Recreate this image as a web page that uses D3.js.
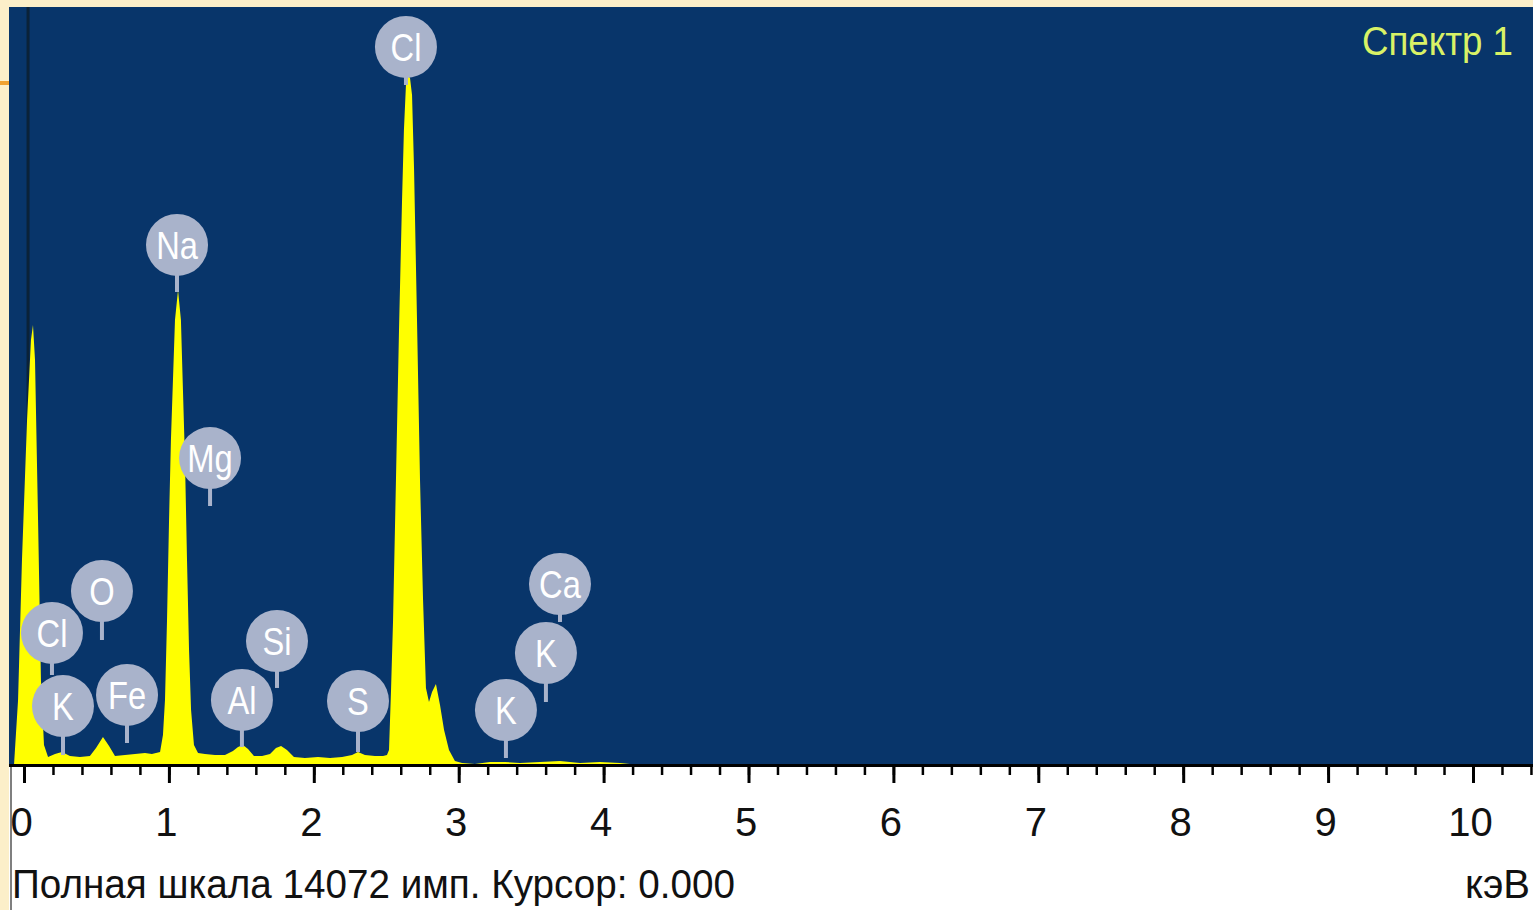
<!DOCTYPE html>
<html><head><meta charset="utf-8">
<script src="https://cdn.jsdelivr.net/npm/d3@7"></script>
<style>html,body{margin:0;padding:0;background:#fcefc9;overflow:hidden}</style>
</head><body><svg id="c" width="1533" height="910"></svg>
<script>
// ---- data ----
const energy = [-0.069,-0.041,-0.014,0.021,0.048,0.062,0.076,0.097,0.117,0.138,0.166,0.214,0.262,0.317,0.386,0.455,0.497,0.545,0.587,0.628,0.697,0.766,0.835,0.883,
  0.939,0.959,0.973,0.987,1.001,1.014,1.028,1.042,1.063,1.083,1.097,1.111,1.125,1.139,1.153,1.173,1.201,
  1.249,1.318,1.387,1.442,1.477,1.511,1.546,1.587,1.643,1.698,1.739,1.774,1.815,1.863,1.939,2.029,2.112,2.195,2.264,2.305,2.353,2.422,2.478,
  2.505,2.519,2.533,2.547,2.567,2.588,2.609,2.622,2.636,2.650,2.664,2.678,2.692,2.712,2.733,2.754,2.774,2.795,2.816,2.843,2.871,2.899,2.933,2.974,
  3.023,3.112,3.216,3.320,3.423,3.561,3.699,3.837,3.975,4.113,4.251,4.527,4.665,10.5];
const counts = [0,1207,3806,6405,7890,8169,7519,4548,1578,371,149,204,241,167,149,167,316,520,353,167,186,204,223,204,
  241,557,1207,2692,4548,6034,7148,8261,8818,8261,6962,5662,3806,2135,1021,371,223,
  204,186,186,260,334,371,297,167,167,204,316,353,278,149,130,149,130,149,186,241,186,167,167,
  186,278,1392,2692,5291,8076,10489,11789,12624,12810,12754,12439,11046,8300,5291,3063,1430,1170,1355,1504,1114,650,278,74,
  37,19,56,56,37,56,74,37,56,37,0,19,0,0];
const fullScale = 14072;
const majorTicks = [0,1,2,3,4,5,6,7,8,9,10];
const tickLabels = ["0","1","2","3","4","5","6","7","8","9","10"];
const peakNames  = ["Cl","Na","Mg","O","Cl","K","Fe","Al","Si","S","K","K","Ca"];
const peakEnergy = [2.636,1.056,1.284,0.538,0.193,0.269,0.711,1.504,1.746,2.305,3.326,3.602,3.699];
const peakLabelY = [13330,9654,5699,3230,2451,1095,1300,1207,2302,1188,1021,2079,3360];
const peakStemEnd= [12624,8781,4808,2321,1671,186,408,334,1430,241,130,1170,2655];
const spectrumName = "Спектр 1";
const footerText = "Полная шкала 14072 имп. Курсор: 0.000";
const unitText = "кэВ";

// ---- drawing ----
const svg = d3.select("#c");
const plotL = 9, plotT = 7, plotR = 1533, plotB = 765;
const x = d3.scaleLinear().domain([0,10]).range([24,1473]);
const y = d3.scaleLinear().domain([0,fullScale]).range([plotB,plotT]);

svg.append("rect").attr("width",1533).attr("height",910).attr("fill","#fcefc9");
svg.append("rect").attr("x",0).attr("y",81).attr("width",plotL).attr("height",4).attr("fill","#f0a232");
svg.append("rect").attr("x",plotL).attr("y",plotT).attr("width",plotR-plotL).attr("height",plotB-plotT).attr("fill","#08356a");

svg.append("clipPath").attr("id","clip").append("rect")
  .attr("x",plotL).attr("y",plotT).attr("width",plotR-plotL).attr("height",plotB-plotT);

// zero line
svg.append("line").attr("x1",x(0.028)).attr("x2",x(0.028)).attr("y1",plotT).attr("y2",plotB)
  .attr("stroke","#0b2238").attr("stroke-width",3);

const data = energy.map((e,i)=>({e, c:counts[i]}));
svg.append("path").datum(data).attr("clip-path","url(#clip)")
  .attr("fill","#ffff00")
  .attr("d", d3.area().x(d=>x(d.e)).y0(y(0)).y1(d=>y(d.c)));

// axis area
svg.append("rect").attr("x",plotL).attr("y",plotB).attr("width",plotR-plotL).attr("height",910-plotB).attr("fill","#ffffff");
svg.append("line").attr("x1",11).attr("x2",11).attr("y1",plotB).attr("y2",910).attr("stroke","#555").attr("stroke-width",1.5);
svg.append("rect").attr("x",plotL).attr("y",plotB-1).attr("width",plotR-plotL).attr("height",3).attr("fill","#000");

const minorTicks = d3.range(0, 10.41, 0.2);
const gMinor = svg.append("g").attr("transform",`translate(0,${plotB+2})`)
  .call(d3.axisBottom(x).tickValues(minorTicks).tickSize(8).tickFormat(""));
gMinor.select(".domain").remove();
gMinor.selectAll("line").attr("stroke","#000").attr("stroke-width",2.5);

const gMajor = svg.append("g").attr("transform",`translate(0,${plotB+2})`)
  .call(d3.axisBottom(x).tickValues(majorTicks).tickSize(16).tickPadding(25)
        .tickFormat((d,i)=>tickLabels[i]));
gMajor.select(".domain").remove();
gMajor.selectAll("line").attr("stroke","#000").attr("stroke-width",3);
gMajor.selectAll("text").attr("font-family","'Liberation Sans', Arial, sans-serif")
  .attr("font-size",40).attr("fill","#111").attr("dx","-3");

// peak labels
const lab = svg.append("g");
peakNames.forEach((n,i)=>{
  const cx = x(peakEnergy[i]), cy = y(peakLabelY[i]);
  lab.append("line").attr("x1",cx).attr("x2",cx).attr("y1",cy).attr("y2",y(peakStemEnd[i]))
    .attr("stroke","#a9b3cb").attr("stroke-width",4);
  lab.append("circle").attr("cx",cx).attr("cy",cy).attr("r",31).attr("fill","#a9b3cb");
  lab.append("text").attr("transform",`translate(${cx},${cy}) scale(0.86,1)`)
    .attr("text-anchor","middle").attr("dy","0.36em")
    .attr("font-family","'Liberation Sans', Arial, sans-serif").attr("font-size",38)
    .attr("fill","#ffffff").text(n);
});

svg.append("text").attr("x",1513).attr("y",55).attr("text-anchor","end")
  .attr("font-family","'Liberation Sans', Arial, sans-serif").attr("font-size",40)
  .attr("textLength",151).attr("lengthAdjust","spacingAndGlyphs")
  .attr("fill","#d9f266").text(spectrumName);

svg.append("text").attr("x",12).attr("y",898)
  .attr("font-family","'Liberation Sans', Arial, sans-serif").attr("font-size",40)
  .attr("textLength",723).attr("lengthAdjust","spacingAndGlyphs")
  .attr("fill","#111").text(footerText);

svg.append("text").attr("x",1530).attr("y",898).attr("text-anchor","end")
  .attr("font-family","'Liberation Sans', Arial, sans-serif").attr("font-size",40)
  .attr("fill","#111").text(unitText);
</script></body></html>
